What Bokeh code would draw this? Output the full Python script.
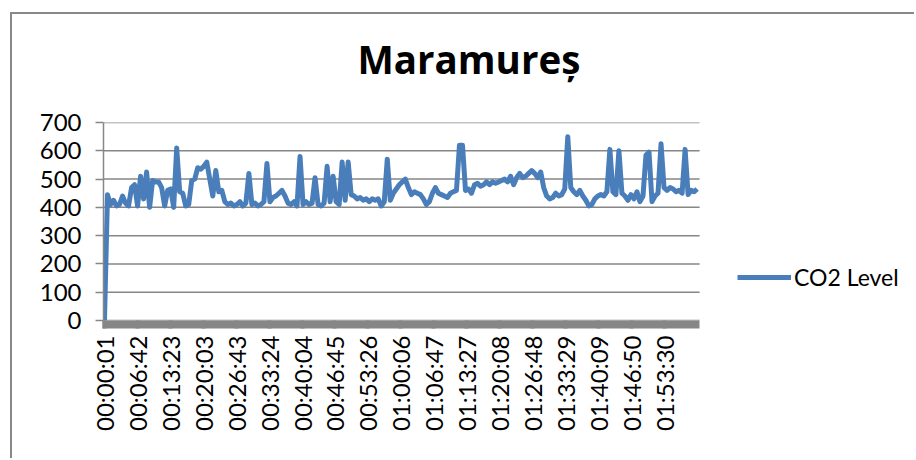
from bokeh.plotting import figure
from bokeh.models import Range1d, FixedTicker, Legend, LegendItem, Title, LinearAxis
from bokeh.embed import file_html
from bokeh.resources import INLINE
import math

TITLE = "Maramureș"
SERIES_NAME = "CO2 Level"
TICK_LABELS = ["00:00:01", "00:06:42", "00:13:23", "00:20:03", "00:26:43", "00:33:24",
               "00:40:04", "00:46:45", "00:53:26", "01:00:06", "01:06:47", "01:13:27",
               "01:20:08", "01:26:48", "01:33:29", "01:40:09", "01:46:50", "01:53:30"]
Y_TICKS = [0, 100, 200, 300, 400, 500, 600, 700]
FIRST_SAMPLE_S = 1
SAMPLE_STEP_S = 36.6
X_START_S = -11        # left edge of the plot area
X_END_S = 7241         # right edge of the plot area (end of the category axis)
X_CANVAS_END_S = 9880  # extra room on the right that holds the legend

co2_level = [
    0, 445, 410, 425, 405, 410, 440, 415, 405, 470,
    480, 405, 510, 430, 525, 400, 495, 490, 490, 470,
    405, 460, 465, 400, 610, 455, 450, 405, 410, 495,
    500, 540, 535, 545, 560, 500, 440, 530, 455, 460,
    420, 410, 415, 405, 410, 420, 405, 415, 520, 410,
    415, 405, 410, 420, 555, 420, 435, 440, 450, 460,
    440, 415, 410, 420, 405, 580, 410, 420, 410, 415,
    505, 410, 405, 415, 545, 420, 510, 420, 410, 560,
    425, 560, 445, 440, 430, 435, 425, 430, 420, 430,
    425, 430, 405, 420, 570, 425, 450, 465, 480, 490,
    500, 470, 445, 455, 450, 445, 430, 410, 420, 450,
    470, 450, 445, 440, 435, 450, 455, 460, 620, 620,
    460, 465, 450, 480, 485, 475, 480, 490, 480, 490,
    485, 490, 495, 500, 490, 510, 480, 505, 520, 505,
    510, 520, 530, 520, 505, 525, 470, 440, 430, 435,
    450, 440, 445, 465, 650, 470, 455, 445, 460, 440,
    425, 405, 410, 430, 440, 445, 440, 455, 605, 455,
    445, 600, 450, 440, 425, 445, 430, 455, 420, 440,
    585, 595, 420, 440, 450, 625, 470, 460, 470, 465,
    455, 460, 450, 605, 445, 460, 455, 465,
]

times = [FIRST_SAMPLE_S + i * SAMPLE_STEP_S for i in range(len(co2_level))]


def to_seconds(s):
    h, m, sec = (int(v) for v in s.split(":"))
    return h * 3600 + m * 60 + sec


tick_pos = [to_seconds(s) for s in TICK_LABELS]

GRID = "#868686"
BLUE = "#4a7ebb"
LABEL_FONT = "Lato"

p = figure(width=904, height=446, output_backend="svg", toolbar_location=None,
           x_range=Range1d(X_START_S, X_CANVAS_END_S), y_range=Range1d(0, 700),
           min_border_left=91, min_border_right=0, min_border_top=108,
           min_border_bottom=140)
p.styles = {"margin-left": "10px", "margin-top": "12px",
            "border-left": "2px solid #888888", "border-top": "2px solid #888888"}
p.outline_line_color = None
p.background_fill_color = "white"
p.border_fill_color = "white"

# blank spacer between the title and the plot area (nearest to the plot area):
# one white tick on white ground, no label
spacer = LinearAxis(ticker=FixedTicker(ticks=[X_START_S]), axis_line_color=None,
                    major_tick_in=0, major_tick_out=33, minor_tick_in=0, minor_tick_out=0,
                    major_tick_line_color="white", major_tick_line_width=1,
                    minor_tick_line_color=None,
                    major_label_overrides={X_START_S: ""},
                    major_label_standoff=0, major_label_text_font_size="0px")
p.add_layout(spacer, "above")

title = Title(text=TITLE, align="left", offset=254, text_font="Open Sans",
              text_font_style="bold", text_font_size="38.5px", text_color="black",
              standoff=10)
p.add_layout(title, "above")

# horizontal gridlines, only across the category axis
p.segment(x0=[X_START_S] * len(Y_TICKS), x1=[X_END_S] * len(Y_TICKS),
          y0=Y_TICKS, y1=Y_TICKS, line_color=GRID, line_width=1.5)

r = p.line(times, co2_level, line_color=BLUE, line_width=5, line_join="round")

# x axis
xa = p.below[0]
xa.ticker = FixedTicker(ticks=tick_pos, minor_ticks=times)
xa.major_label_overrides = {t: s for t, s in zip(tick_pos, TICK_LABELS)}
xa.major_label_orientation = math.pi / 2
xa.major_label_text_font = LABEL_FONT
xa.major_label_text_font_size = "24px"
xa.major_label_text_color = "black"
xa.major_label_standoff = 7
xa.major_tick_in = 0
xa.major_tick_out = 8
xa.minor_tick_in = 0
xa.minor_tick_out = 8
xa.major_tick_line_color = GRID
xa.minor_tick_line_color = GRID
xa.major_tick_line_width = 4
xa.minor_tick_line_width = 4
xa.axis_line_color = None

# y axis
ya = p.left[0]
ya.ticker = FixedTicker(ticks=Y_TICKS)
ya.major_label_text_font = LABEL_FONT
ya.major_label_text_font_size = "24px"
ya.major_label_text_color = "black"
ya.major_label_standoff = 14
ya.major_tick_in = 0
ya.major_tick_out = 8
ya.minor_tick_line_color = None
ya.major_tick_line_color = GRID
ya.major_tick_line_width = 1.5
ya.axis_line_color = GRID
ya.axis_line_width = 1.5

p.xgrid.grid_line_color = None
p.ygrid.grid_line_color = None

legend = Legend(items=[LegendItem(label=SERIES_NAME, renderers=[r])],
                location=(634, 29), padding=0, margin=0, spacing=0,
                border_line_color=None, background_fill_alpha=0,
                glyph_width=54, glyph_height=24, label_height=24,
                label_standoff=3, label_text_font=LABEL_FONT,
                label_text_font_size="23px", label_text_color="black")
p.add_layout(legend)

open("out.html", "w").write(file_html(p, INLINE))
